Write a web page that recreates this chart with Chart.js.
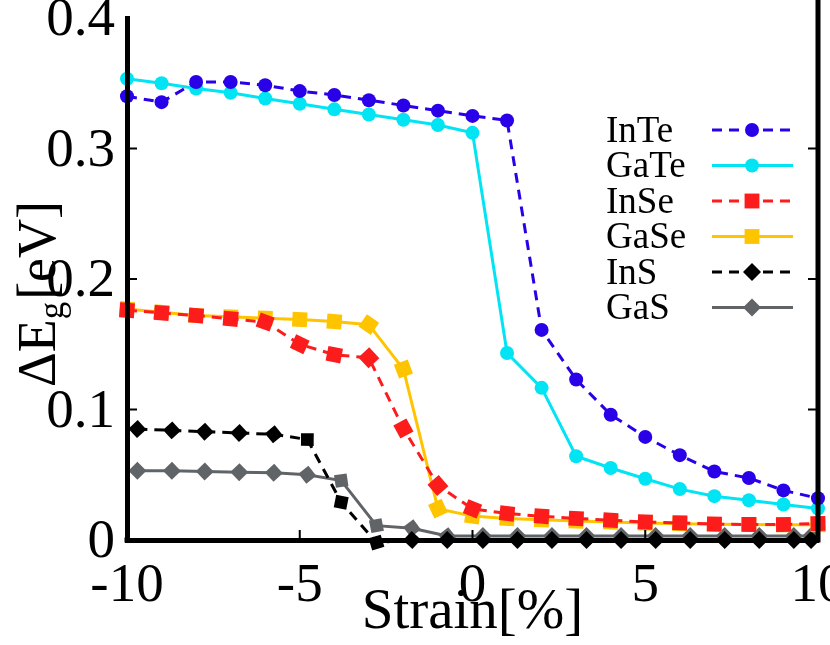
<!DOCTYPE html>
<html>
<head>
<meta charset="utf-8">
<script src="https://cdn.jsdelivr.net/npm/chart.js@4.4.1/dist/chart.umd.min.js"></script>
<style>
  body { margin: 0; background: #fff; }
  canvas { display: block; }
</style>
</head>
<body>
<canvas id="gap-chart" width="830" height="645"></canvas>
<script>
// strain points (%) - the In/Ga sulfides were sampled on a slightly shifted grid
const strainA = [-10, -9, -8, -7, -6, -5, -4, -3, -2, -1, 0, 1, 2, 3, 4, 5, 6, 7, 8, 9, 10];
const strainB = [-9.7, -8.7, -7.75, -6.75, -5.75, -4.78, -3.8, -2.78, -1.75, -0.73, 0.3, 1.3, 2.3, 3.3, 4.3, 5.3, 6.3, 7.3, 8.3, 9.3, 9.8];

// band gap change [eV]
const inTe = [0.340, 0.3355, 0.351, 0.351, 0.3485, 0.344, 0.341, 0.337, 0.333, 0.329, 0.325, 0.3215, 0.161, 0.123, 0.096, 0.079, 0.065, 0.0525, 0.0475, 0.038, 0.032];
const gaTe = [0.3534, 0.350, 0.346, 0.3427, 0.3383, 0.3343, 0.330, 0.326, 0.322, 0.318, 0.312, 0.1433, 0.1166, 0.0642, 0.0552, 0.0469, 0.039, 0.0336, 0.0305, 0.0272, 0.0241];
const inSe = [0.176, 0.174, 0.172, 0.1695, 0.167, 0.150, 0.142, 0.1396, 0.0854, 0.0418, 0.0238, 0.0203, 0.0182, 0.0165, 0.0152, 0.0138, 0.0132, 0.0122, 0.0119, 0.0119, 0.0126];
const gaSe = [0.177, 0.1745, 0.172, 0.171, 0.170, 0.169, 0.1674, 0.165, 0.131, 0.024, 0.0183, 0.0165, 0.0155, 0.0145, 0.0137, 0.013, 0.0125, 0.012, 0.0118, 0.0117, 0.0117];
const inS  = [0.085, 0.084, 0.083, 0.082, 0.081, 0.077, 0.029, -0.002, 0, 0, 0, 0, 0, 0, 0, 0, 0, 0, 0, 0, 0];
const gaS  = [0.053, 0.053, 0.0525, 0.052, 0.0515, 0.050, 0.0455, 0.011, 0.009, 0.003, 0.003, 0.003, 0.003, 0.003, 0.003, 0.003, 0.003, 0.003, 0.003, 0.003, 0.003];

const xTicks = [-10, -5, 0, 5, 10];
const yTicks = [0, 0.1, 0.2, 0.3, 0.4];

const serif = '"Liberation Serif", "Times New Roman", serif';

function pts(xs, ys) {
  return xs.map((x, i) => ({ x: x, y: ys[i] }));
}

// markers are turned along the local direction of the curve, like the original plot
function alongLine(ctx) {
  const data = ctx.dataset.data;
  const i = ctx.dataIndex;
  const xs = ctx.chart.scales.x;
  const ys = ctx.chart.scales.y;
  if (!xs || !ys || !data[i]) return 0;
  const a = data[Math.max(i - 1, 0)];
  const b = data[Math.min(i + 1, data.length - 1)];
  const dx = xs.getPixelForValue(b.x) - xs.getPixelForValue(a.x);
  const dy = ys.getPixelForValue(b.y) - ys.getPixelForValue(a.y);
  return Math.atan2(dy, dx) * 180 / Math.PI;
}

function series(label, xs, ys, color, style, radius, dashed) {
  return {
    label: label,
    data: pts(xs, ys),
    borderColor: color,
    backgroundColor: color,
    pointBackgroundColor: color,
    pointBorderColor: color,
    pointBorderWidth: 0,
    borderWidth: 3,
    borderDash: dashed ? [10, 7] : [],
    pointStyle: style,
    pointRadius: radius,
    pointHoverRadius: radius,
    pointRotation: style === 'circle' ? 0 : alongLine,
    tension: 0,
    clip: false
  };
}

const datasets = [
  series('InTe', strainA, inTe, '#2a00e8', 'circle', 7, true),
  series('GaTe', strainA, gaTe, '#00e4f4', 'circle', 7, false),
  series('InSe', strainA, inSe, '#fc1c1c', 'rect', 10.5, true),
  series('GaSe', strainA, gaSe, '#ffc400', 'rect', 10.5, false),
  series('InS', strainB, inS, '#000000', 'rectRot', 9, true),
  series('GaS', strainB, gaS, '#616467', 'rectRot', 9, false)
];

// right axis, inward ticks, axis titles and the legend
const decorations = {
  id: 'decorations',
  afterDraw(chart) {
    const ctx = chart.ctx;
    const area = chart.chartArea;
    const xs = chart.scales.x;
    const ys = chart.scales.y;
    ctx.save();
    ctx.fillStyle = '#000';
    ctx.strokeStyle = '#000';
    ctx.lineWidth = 5;
    ctx.beginPath();
    ctx.moveTo(area.right, 0);
    ctx.lineTo(area.right, area.bottom + 2.5);
    ctx.stroke();
    ctx.fillRect(area.left - 2.5, area.bottom - 2.5, 5, 5);

    ctx.lineWidth = 2;
    ctx.beginPath();
    yTicks.forEach(v => {
      if (v <= 0 || v >= 0.4) return;
      const py = ys.getPixelForValue(v);
      ctx.moveTo(area.left, py); ctx.lineTo(area.left + 10, py);
      ctx.moveTo(area.right, py); ctx.lineTo(area.right - 10, py);
    });
    xTicks.forEach(v => {
      if (v <= -10 || v >= 10) return;
      const px = xs.getPixelForValue(v);
      ctx.moveTo(px, area.bottom); ctx.lineTo(px, area.bottom - 10);
    });
    ctx.stroke();

    // x title
    ctx.font = '57px ' + serif;
    ctx.textAlign = 'center';
    ctx.textBaseline = 'alphabetic';
    ctx.fillText('Strain[%]', (area.left + area.right) / 2, 628);

    // y title with subscript
    ctx.save();
    ctx.translate(55, 295);
    ctx.rotate(-Math.PI / 2);
    ctx.textAlign = 'left';
    const big = '54px ' + serif;
    const small = '35px ' + serif;
    ctx.font = big;
    const w1 = ctx.measureText('\u0394E').width;
    const w3 = ctx.measureText('[eV]').width;
    ctx.font = small;
    const w2 = ctx.measureText('g').width;
    const x0 = -(w1 + w2 + w3) / 2;
    ctx.font = big;
    ctx.fillText('\u0394E', x0, 0);
    ctx.font = small;
    ctx.fillText('g', x0 + w1, 8);
    ctx.font = big;
    ctx.fillText('[eV]', x0 + w1 + w2 + 2, 0);
    ctx.restore();

    // legend: name on the left, line sample with marker on the right
    chart.data.datasets.forEach((ds, i) => {
      const y = 130 + i * 35.5;
      ctx.font = '37px ' + serif;
      ctx.textAlign = 'left';
      ctx.textBaseline = 'middle';
      ctx.fillStyle = '#000';
      ctx.fillText(ds.label, 606, y + 2);
      ctx.strokeStyle = ds.borderColor;
      ctx.lineWidth = ds.borderWidth;
      ctx.setLineDash(ds.borderDash);
      ctx.beginPath();
      ctx.moveTo(712, y);
      ctx.lineTo(793, y);
      ctx.stroke();
      ctx.setLineDash([]);
      ctx.fillStyle = ds.pointBackgroundColor;
      Chart.helpers.drawPoint(ctx, { pointStyle: ds.pointStyle, radius: ds.pointRadius, rotation: 0, borderWidth: 0 }, 752, y);
    });
    ctx.restore();
  }
};

new Chart(document.getElementById('gap-chart'), {
  type: 'line',
  data: { datasets: datasets },
  options: {
    responsive: false,
    animation: false,
    events: [],
    layout: { padding: { top: 18, right: 12, left: 0, bottom: 0 } },
    plugins: { legend: { display: false }, tooltip: { enabled: false } },
    scales: {
      x: {
        type: 'linear',
        min: -10,
        max: 10,
        afterBuildTicks(scale) { scale.ticks = xTicks.map(v => ({ value: v })); },
        afterFit(scale) {
          scale.height = 105;
          scale.paddingLeft = 0;
          scale.paddingRight = 0;
        },
        grid: { display: false, drawTicks: false },
        border: { display: true, color: '#000', width: 5, z: 1 },
        ticks: {
          color: '#000',
          font: { family: serif, size: 55 },
          padding: 14,
          maxRotation: 0,
          autoSkip: false,
          callback: v => String(v)
        }
      },
      y: {
        type: 'linear',
        min: 0,
        max: 0.4,
        afterBuildTicks(scale) { scale.ticks = yTicks.map(v => ({ value: v })); },
        afterFit(scale) {
          scale.width = 127;
          scale.paddingTop = 0;
          scale.paddingBottom = 0;
        },
        grid: { display: false, drawTicks: false },
        border: { display: true, color: '#000', width: 5, z: 1 },
        ticks: {
          color: '#000',
          font: { family: serif, size: 55 },
          padding: 12,
          labelOffset: 3,
          autoSkip: false,
          callback: v => (v === 0 ? '0' : v.toFixed(1))
        }
      }
    }
  },
  plugins: [decorations]
});
</script>
</body>
</html>
